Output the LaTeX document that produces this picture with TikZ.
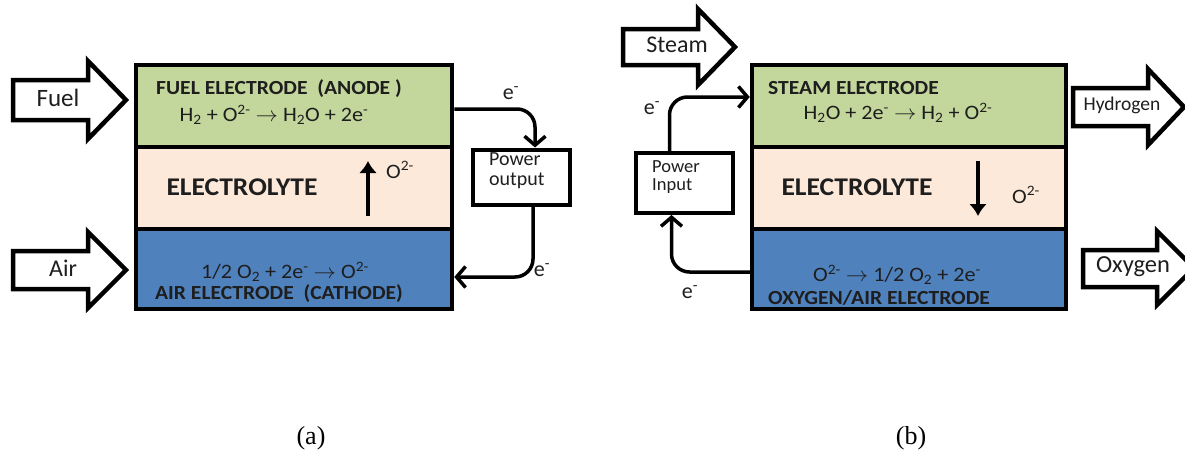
\documentclass[tikz,border=0pt]{standalone}
\usepackage{fontspec}
\setmainfont{Carlito}
\newfontfamily\capfont{Liberation Serif}
\usetikzlibrary{arrows.meta}
\definecolor{anodegreen}{RGB}{195,214,155}
\definecolor{elecpeach}{RGB}{253,233,217}
\definecolor{cathblue}{RGB}{79,129,189}
\definecolor{inkgray}{RGB}{30,30,30}
\newcommand{\fs}[1]{\fontsize{#1}{#1}\selectfont}
\newcommand{\sx}[1]{\scalebox{1.08}[1]{#1}}
\begin{document}
\begin{tikzpicture}[x=1pt,y=-1pt,
  layer/.style={draw=black, line width=4.5pt, minimum height=82pt, inner sep=0pt},
  leftlayer/.style={layer, minimum width=316pt},
  rightlayer/.style={layer, minimum width=314pt},
  blockarrow/.style={draw=black, fill=white, line width=4.5pt, line join=miter},
  flow/.style={draw=black, line width=3.5pt, rounded corners=18pt,
    -{Straight Barb[length=9pt,width=21pt]}},
  ion/.style={draw=black, line width=4.5pt, -{Latex[length=12pt,width=18pt]}},
  powerbox/.style={draw=black, line width=4pt, inner sep=0pt},
  title/.style={font=\fs{20}\bfseries, text=inkgray, inner sep=0pt},
  eqn/.style={font=\fs{20.5}, text=inkgray, inner sep=0pt},
  elyte/.style={font=\fs{25.5}\bfseries, text=inkgray, inner sep=0pt},
  lbl/.style={font=\fs{24}, text=inkgray, inner sep=0pt},
  elbl/.style={font=\fs{22}, text=inkgray, inner sep=0pt},
  captext/.style={font=\capfont\fs{26}, inner sep=0pt}]
\useasboundingbox (0,0) rectangle (1185,455);
\clip (0,0) rectangle (1185,455);

% ---------- (a) fuel cell ----------
\node[leftlayer, fill=anodegreen] (fa) at (294,106) {};
\node[leftlayer, fill=elecpeach] (fe) at (294,188) {};
\node[leftlayer, fill=cathblue, minimum height=80pt] (ca) at (294,269) {};

\node[title] (fat) at (279,89) {\sx{FUEL ELECTRODE\ \ (ANODE )}};
\node[eqn] (fae) at (274,115) {\sx{H\textsubscript{2} + O\textsuperscript{2-} $\rightarrow$ H\textsubscript{2}O + 2e\textsuperscript{-}}};
\node[elyte] (fel) at (242,187) {\sx{ELECTROLYTE}};
\coordinate (fib) at (368,216);
\coordinate (fit) at (368,161);
\draw[ion] (fib) -- (fit);
\node[eqn] (fio) at (400,170) {\sx{O\textsuperscript{2-}}};
\node[eqn] (cae) at (285,272) {\sx{1/2 O\textsubscript{2} + 2e\textsuperscript{-} $\rightarrow$ O\textsuperscript{2-}}};
\node[title] (cat) at (279,294) {\sx{AIR ELECTRODE\ \ (CATHODE)}};

\draw[blockarrow] (13,80) -- (88,80) -- (88,61) -- (126,100) -- (88,139) -- (88,120) -- (13,120) -- cycle;
\node[font=\fs{25}, text=inkgray, inner sep=0pt] (fuel) at (58,98) {Fuel};
\draw[blockarrow] (13,251) -- (88,251) -- (88,232) -- (126,270) -- (88,308) -- (88,289) -- (13,289) -- cycle;
\node[lbl] (air) at (63,268) {Air};

\node[font=\fs{20}, text=inkgray, inner sep=0pt, align=left, anchor=west] (pot) at (489,171) {\baselineskip=25pt Power\\output};
\node[powerbox, minimum width=97pt, minimum height=55pt] (pob) at (521,177) {};
\draw[flow] ([yshift=-3pt]fa.east) -| ([xshift=14pt]pob.north);
\draw[flow] ([xshift=12pt]pob.south) |- ([yshift=-8pt]ca.east);
\node[elbl] (e1) at (511,93) {e\textsuperscript{-}};
\node[elbl] (e2) at (542,270) {e\textsuperscript{-}};

% ---------- (b) electrolysis cell ----------
\node[rightlayer, fill=anodegreen] (sa) at (909,106) {};
\node[rightlayer, fill=elecpeach] (se) at (909,188) {};
\node[rightlayer, fill=cathblue, minimum height=80pt] (oa) at (909,269) {};

\node[title, anchor=west] (sat) at (768,88) {\sx{STEAM ELECTRODE}};
\node[eqn] (sae) at (898,113) {\sx{H\textsubscript{2}O + 2e\textsuperscript{-} $\rightarrow$ H\textsubscript{2} + O\textsuperscript{2-}}};
\node[elyte] (sel) at (857,187) {\sx{ELECTROLYTE}};
\coordinate (sit) at (978,161);
\coordinate (sib) at (978,216);
\draw[ion] (sit) -- (sib);
\node[eqn] (sio) at (1026,195) {\sx{O\textsuperscript{2-}}};
\node[eqn] (oae) at (897,275) {\sx{O\textsuperscript{2-} $\rightarrow$ 1/2 O\textsubscript{2} + 2e\textsuperscript{-}}};
\node[title, anchor=west] (oat) at (768,298) {\sx{OXYGEN/AIR ELECTRODE}};

\draw[blockarrow] (623,29) -- (698,29) -- (698,9) -- (735,47) -- (698,85) -- (698,65) -- (623,65) -- cycle;
\node[lbl] (steam) at (677,45) {Steam};
\draw[blockarrow] (1073,88) -- (1148,88) -- (1148,69) -- (1184,107) -- (1148,145) -- (1148,126) -- (1073,126) -- cycle;
\node[font=\fs{19.5}, text=inkgray, inner sep=0pt] (hyd) at (1122,105) {Hydrogen};
\draw[blockarrow] (1083,250) -- (1157,250) -- (1157,231) -- (1194,268) -- (1157,305) -- (1157,287) -- (1083,287) -- cycle;
\node[font=\fs{24.5}, text=inkgray, inner sep=0pt] (oxy) at (1133,267) {Oxygen};

\node[font=\fs{18.5}, text=inkgray, inner sep=0pt, align=left, anchor=west] (pit) at (652,177) {\baselineskip=26pt Power\\Input};
\node[powerbox, minimum width=97pt, minimum height=60pt] (pib) at (684.5,183) {};
\draw[flow] ([xshift=-15pt]pib.north) |- ([yshift=9pt]sa.west);
\draw[flow] ([yshift=-3pt]oa.west) -| ([xshift=-13pt]pib.south);
\node[elbl] (e3) at (652,108) {e\textsuperscript{-}};
\node[elbl] (e4) at (690,292) {e\textsuperscript{-}};

% ---------- captions ----------
\node[captext] (capa) at (311,438) {(a)};
\node[captext] (capb) at (911,438) {(b)};
\end{tikzpicture}
\end{document}
